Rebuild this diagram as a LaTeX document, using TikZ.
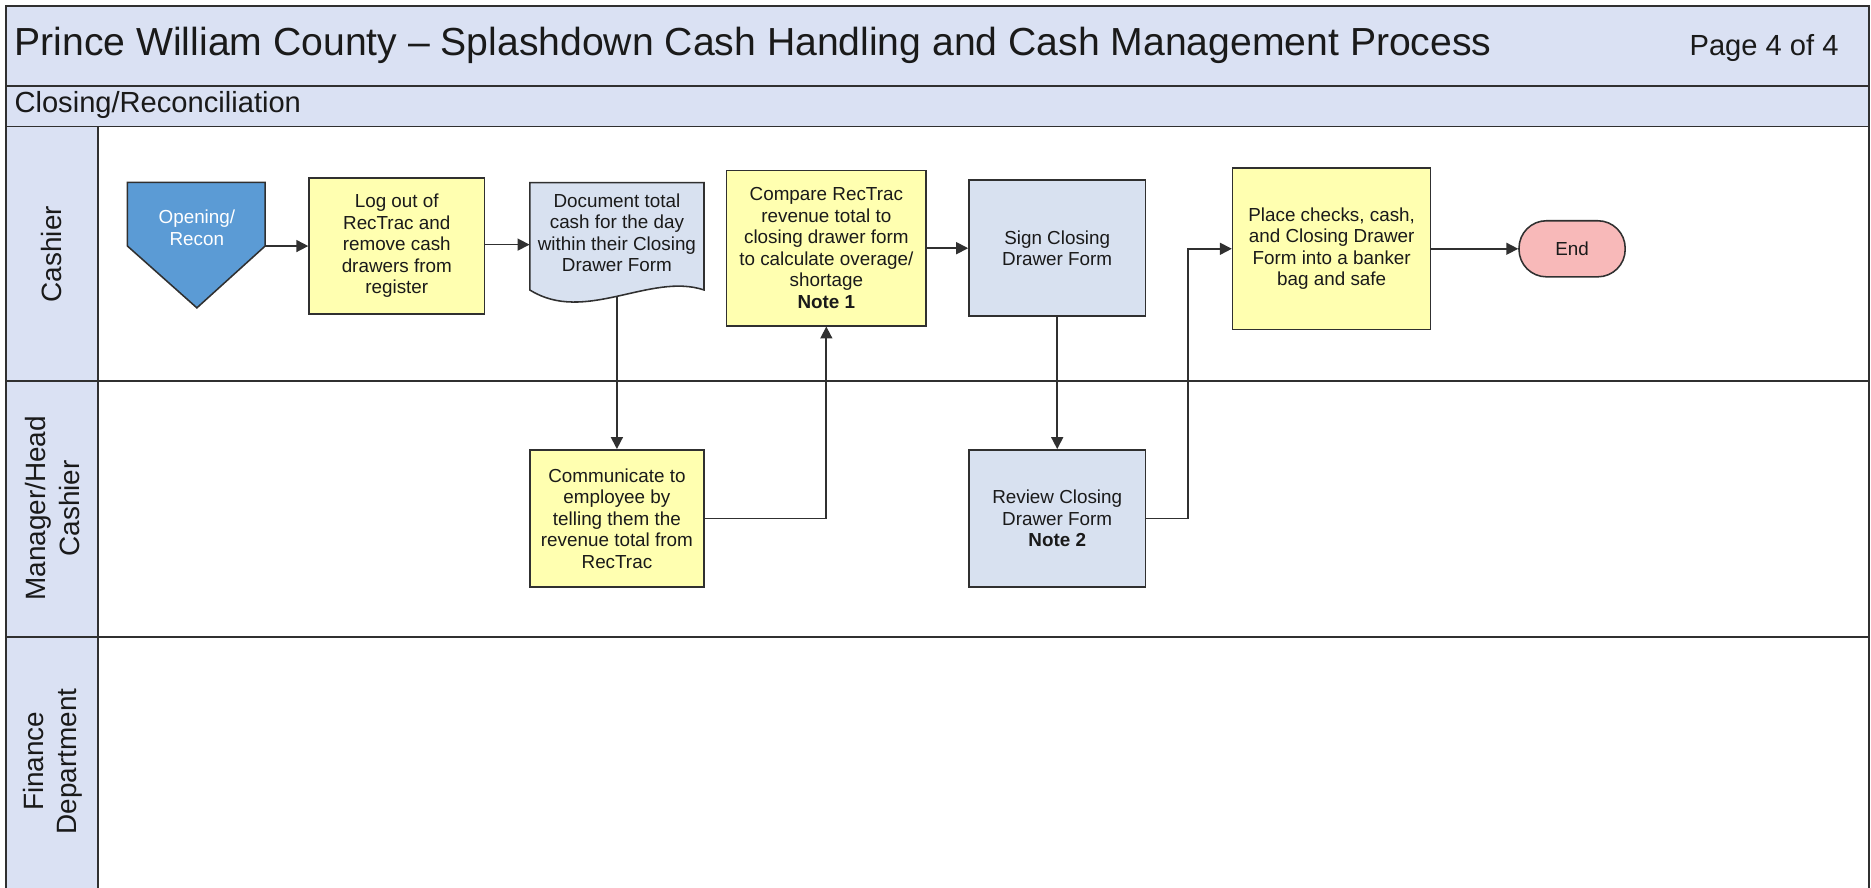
\documentclass[tikz,border=0pt]{standalone}
\usepackage{fontspec}
\setmainfont{Liberation Sans}
\usetikzlibrary{arrows.meta,calc}
\definecolor{hdr}{HTML}{DAE1F3}
\definecolor{yel}{HTML}{FFFFB0}
\definecolor{lblue}{HTML}{D8E1F0}
\definecolor{pinkf}{HTML}{F8B9B9}
\definecolor{bluef}{HTML}{5B9BD5}
\definecolor{bord}{HTML}{303030}
\definecolor{txt}{HTML}{1A1A1A}
\begin{document}
\begin{tikzpicture}[x=1pt,y=-1pt,
  frame/.style={draw=bord, line width=1.6pt},
  boxtext/.style={font=\fontsize{15.8}{18}\selectfont, text=txt, align=center},
  proc/.style={boxtext, draw=bord, line width=1.3pt, inner sep=2pt},
  yproc/.style={proc, fill=yel},
  bproc/.style={proc, fill=lblue},
  arr/.style={draw=bord, line width=1.4pt, -{Triangle[length=10pt,width=10pt]}},
  lane/.style={font=\fontsize{23.4}{28}\selectfont, text=txt, align=center, rotate=90}
]
\useasboundingbox (0,0) rectangle (1568,743.4);
% header and lane label backgrounds
\fill[hdr] (5,5) rectangle (1566,106);
\fill[hdr] (5,106) rectangle (82,745);
\draw[frame] (5,745) -- (5,5) -- (1566,5) -- (1566,745);
\draw[frame] (5,72) -- (1566,72);
\draw[frame] (5,106) -- (1566,106);
\draw[frame] (82,106) -- (82,745);
\draw[frame] (5,319) -- (1566,319);
\draw[frame] (5,534) -- (1566,534);

\node[anchor=west, font=\fontsize{32.8}{36}\selectfont, text=txt, inner sep=0pt] (title) at (12,38)
  {Prince William County – Splashdown Cash Handling and Cash Management Process};
\node[anchor=east, font=\fontsize{24.4}{28}\selectfont, text=txt, inner sep=0pt] (page) at (1541,40) {Page 4 of 4};
\node[anchor=west, font=\fontsize{24.4}{28}\selectfont, text=txt, inner sep=0pt] (sub) at (12,88) {Closing/Reconciliation};

\node[lane] (l1) at (43,213) {Cashier};
\node[lane] (l2) at (44,426) {Manager/Head\\Cashier};
\node[lane] (l3) at (44,638) {Finance\\Department};

% Opening/Recon off-page connector
\node[minimum width=115pt, minimum height=53pt, inner sep=0pt] (open) at (164.5,179.5) {};
\fill[bluef, draw=bord, line width=1.3pt] (open.north west) -- (open.north east) -- (open.south east)
  -- (165,258) -- (open.south west) -- cycle;
\node[boxtext, text=white] (opentext) at (165,191) {Opening/\\Recon};

\node[yproc, minimum width=147pt, minimum height=114pt] (log) at (332.5,206)
  {Log out of\\RecTrac and\\remove cash\\drawers from\\register};

% document shape
\node[minimum width=146pt, minimum height=95pt, inner sep=0pt] (doc) at (517,200.5) {};
\fill[lblue, draw=bord, line width=1.3pt] (444,153) -- (590,153) -- (590,243)
  .. controls (545,228) and (490,272) .. (444,243) -- cycle;
\node[boxtext] (doctext) at (517,195) {Document total\\cash for the day\\within their Closing\\Drawer Form};

\node[yproc, minimum width=167pt, minimum height=130pt] (cmp) at (692.5,208)
  {Compare RecTrac\\revenue total to\\closing drawer form\\to calculate overage/\\shortage\\\textbf{Note 1}};

\node[bproc, minimum width=148pt, minimum height=114pt] (sign) at (886,208)
  {Sign Closing\\Drawer Form};

\node[yproc, minimum width=166pt, minimum height=135pt] (place) at (1116,208.5)
  {Place checks, cash,\\and Closing Drawer\\Form into a banker\\bag and safe};

\node[proc, fill=pinkf, minimum width=89pt, minimum height=47pt, rounded corners=23pt] (end) at (1317.5,208.5) {End};

\node[yproc, minimum width=146pt, minimum height=115pt] (comm) at (517,434.5)
  {Communicate to\\employee by\\telling them the\\revenue total from\\RecTrac};

\node[bproc, minimum width=148pt, minimum height=115pt] (rev) at (886,434.5)
  {Review Closing\\Drawer Form\\\textbf{Note 2}};

% connectors
\draw[arr] (open.south east) -- (log.west |- open.south east);
\draw[arr] (log.east |- 0,205) -- (doc.west |- 0,205);
\draw[arr] (doc.south) -- (comm.north);
\draw[arr] (comm.east) -| (cmp.south);
\draw[arr] (cmp.east) -- (sign.west);
\draw[arr] (sign.south) -- (rev.north);
\draw[arr] (rev.east) -- ++(35,0) |- (place.west);
\draw[arr] (place.east) -- (end.west);
\end{tikzpicture}
\end{document}
